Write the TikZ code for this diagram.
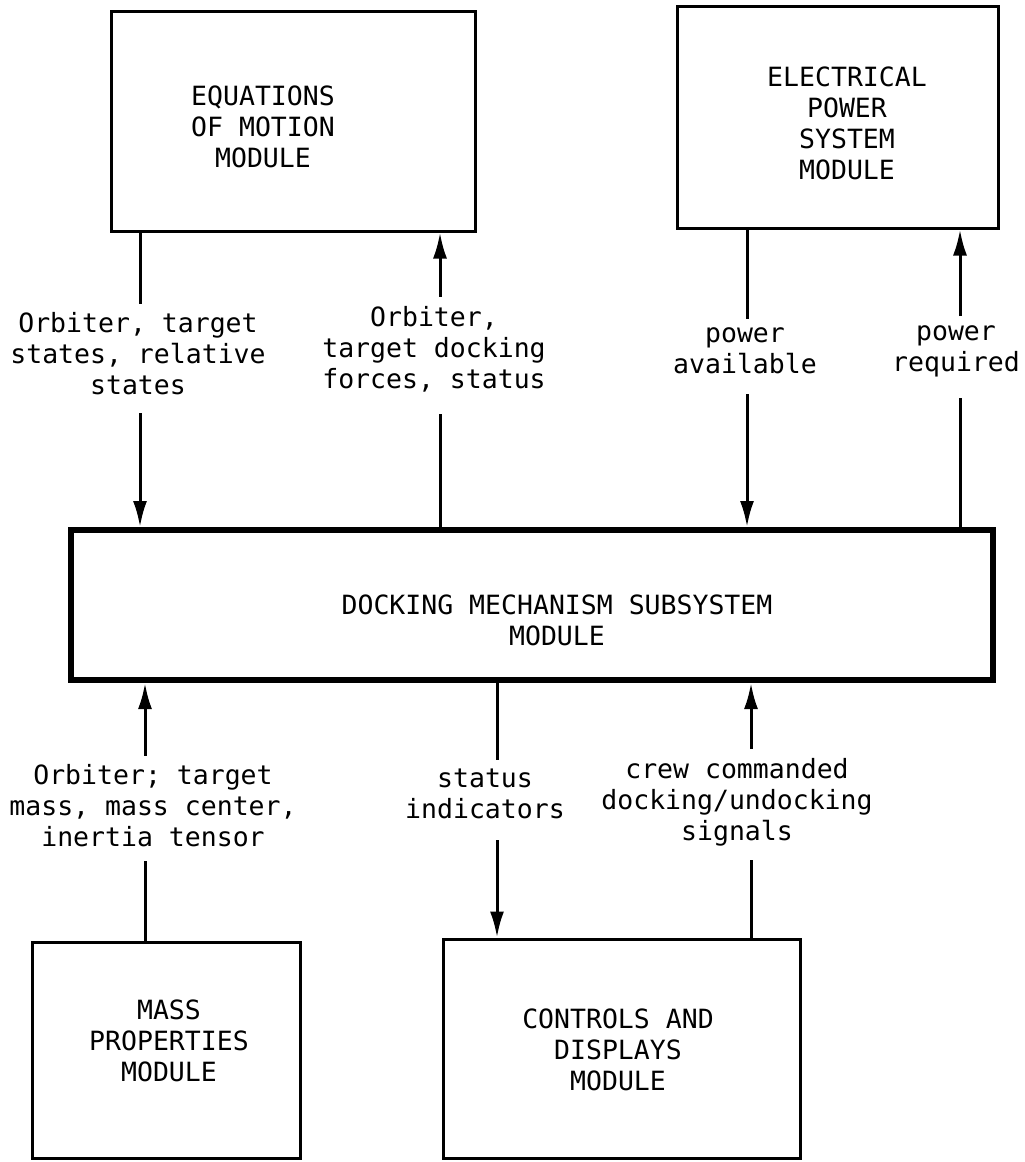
\documentclass[tikz,border=0pt]{standalone}
\usepackage{fontspec}
\setmonofont{DejaVu Sans Mono}
\usetikzlibrary{arrows.meta}
\begin{document}
\begin{tikzpicture}[x=1pt,y=-1pt,
  font=\ttfamily\fontsize{26.5}{31}\selectfont,
  box/.style={draw, line width=3pt, inner sep=0pt},
  dockbox/.style={draw, line width=6pt, inner sep=0pt},
  boxtext/.style={align=center, inner sep=0pt},
  flowlabel/.style={align=center, inner xsep=0pt, inner ysep=9pt},
  flow/.style={line width=3pt},
  flowarrow/.style={line width=3pt, -{Latex[length=26pt,width=14pt]}},
]
\useasboundingbox (0,0) rectangle (1025,1162);

% module boxes
\node[box, minimum width=364pt, minimum height=220pt] (eom) at (293,121) {};
\node[box, minimum width=321pt, minimum height=222pt] (eps) at (837.5,117) {};
\node[dockbox, minimum width=922pt, minimum height=150pt] (dock) at (532,605) {};
\node[box, minimum width=268pt, minimum height=216pt] (mass) at (166,1050) {};
\node[box, minimum width=357pt, minimum height=219pt] (ctrl) at (621.5,1048.5) {};

% module titles
\node[boxtext] (eomtxt) at (263,127) {EQUATIONS\\OF MOTION\\MODULE};
\node[boxtext] (epstxt) at (847,123) {ELECTRICAL\\POWER\\SYSTEM\\MODULE};
\node[boxtext] (docktxt) at (557,620) {DOCKING MECHANISM SUBSYSTEM\\MODULE};
\node[boxtext] (masstxt) at (169,1041) {MASS\\PROPERTIES\\MODULE};
\node[boxtext] (ctrltxt) at (618,1050) {CONTROLS AND\\DISPLAYS\\MODULE};

% signal labels
\node[flowlabel] (l1) at (138,354) {Orbiter, target\\states, relative\\states};
\node[flowlabel] (l2) at (434,349) {Orbiter,\\target docking\\forces, status};
\node[flowlabel] (l3) at (745,351) {power\\available};
\node[flowlabel] (l4) at (956,351) {power\\required};
\node[flowlabel] (l5) at (153,806) {Orbiter; target\\mass, mass center,\\inertia tensor};
\node[flowlabel] (l6) at (485,794) {status\\indicators};
\node[flowlabel] (l7) at (737,802) {crew commanded\\docking/undocking\\signals};

% signal line columns
\coordinate (c1) at (140,0);
\coordinate (c2) at (440,0);
\coordinate (c3) at (747,0);
\coordinate (c4) at (960,0);
\coordinate (c5) at (145,0);
\coordinate (c6) at (497,0);
\coordinate (c7) at (751,0);

% signal flows
\draw[flow] (eom.south -| c1) -- (l1.north -| c1);
\draw[flowarrow, shorten <=9pt] (l1.south -| c1) -- (dock.north -| c1);
\draw[flow, shorten >=13pt] (dock.north -| c2) -- (l2.south -| c2);
\draw[flowarrow] (l2.north -| c2) -- (eom.south -| c2);
\draw[flow] (eps.south -| c3) -- (l3.north -| c3);
\draw[flowarrow, shorten <=11pt] (l3.south -| c3) -- (dock.north -| c3);
\draw[flow, shorten >=12pt] (dock.north -| c4) -- (l4.south -| c4);
\draw[flowarrow] (l4.north -| c4) -- (eps.south -| c4);
\draw[flow, shorten >=5pt] (mass.north -| c5) -- (l5.south -| c5);
\draw[flowarrow] (l5.north -| c5) -- (dock.south -| c5);
\draw[flow] (dock.south -| c6) -- (l6.north -| c6);
\draw[flowarrow, shorten <=12pt] (l6.south -| c6) -- (ctrl.north -| c6);
\draw[flow, shorten >=5pt] (ctrl.north -| c7) -- (l7.south -| c7);
\draw[flowarrow] (l7.north -| c7) -- (dock.south -| c7);
\end{tikzpicture}
\end{document}
